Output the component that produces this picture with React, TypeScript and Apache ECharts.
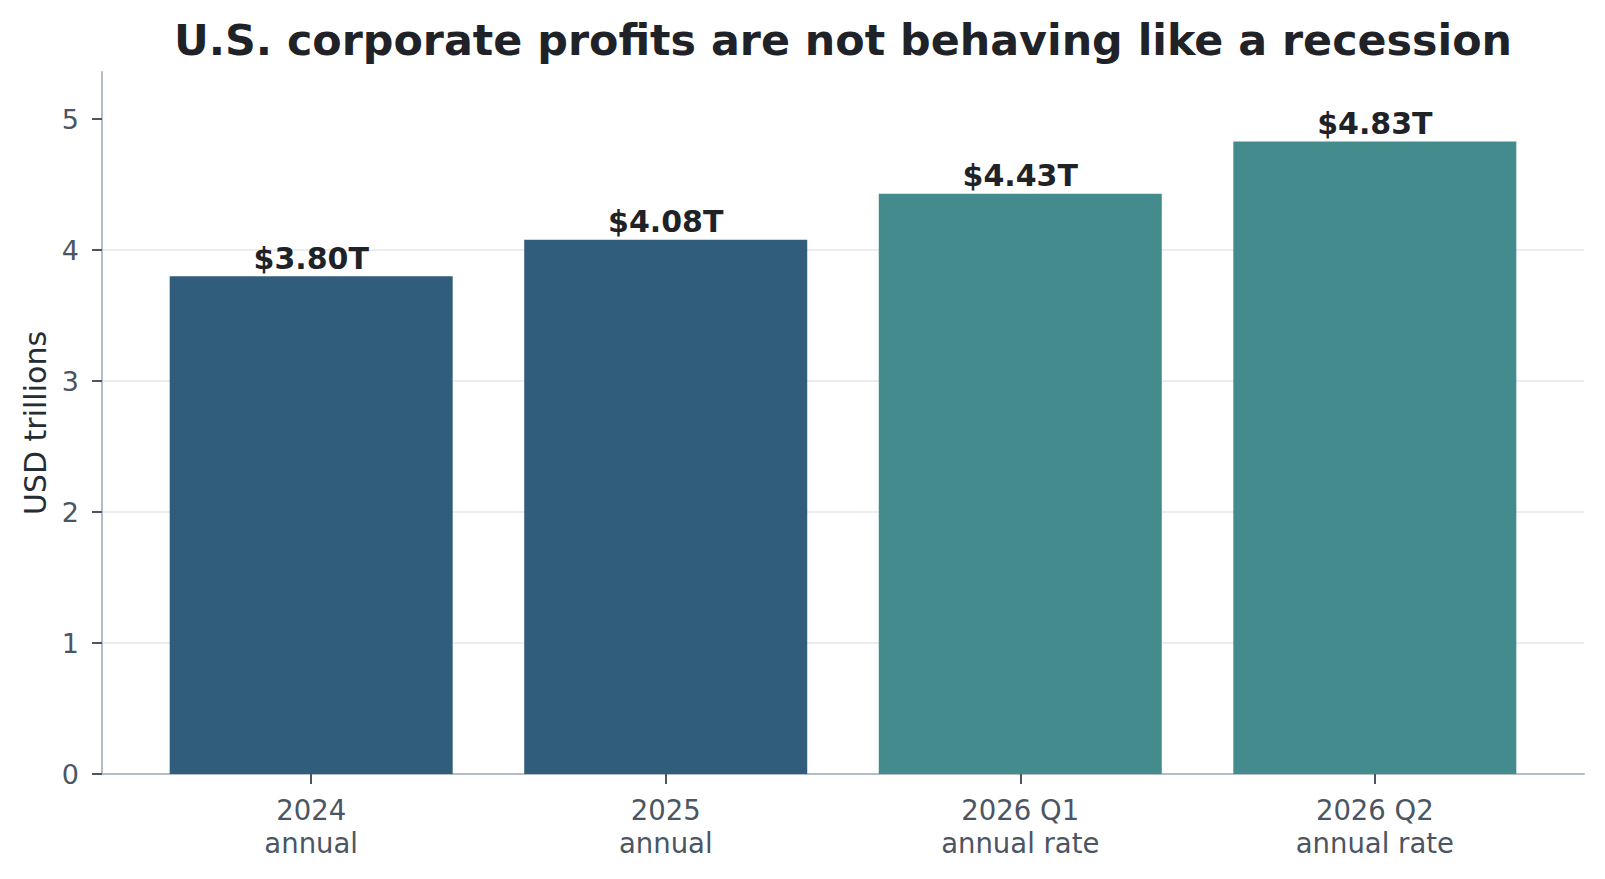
import React, { useEffect, useRef } from "react";
import * as echarts from "echarts";

const categoryMain = ["2024", "2025", "2026 Q1", "2026 Q2"];
const categorySub = ["annual", "annual", "annual rate", "annual rate"];
const profits = [3.8, 4.08, 4.43, 4.83];
const barColors = ["#305d7b", "#305d7b", "#438b8d", "#438b8d"];
const yTicks = [0, 1, 2, 3, 4, 5];

const TITLE = "U.S. corporate profits are not behaving like a recession";
const FONT = "DejaVu Sans";

export default function App() {
  const ref = useRef<HTMLDivElement>(null);
  useEffect(() => {
    if (!ref.current) return;
    const chart = echarts.init(ref.current, undefined, { renderer: "svg" });
    const xIdx = categoryMain.map((_, i) => i);
    chart.setOption({
      animation: false,
      backgroundColor: "#ffffff",
      title: {
        text: TITLE,
        left: 838,
        textAlign: "center",
        top: 13,
        textStyle: { fontFamily: FONT, fontSize: 42.8, fontWeight: "bold", color: "#1f2328" },
      },
      grid: { left: 102, right: 21, top: 72, bottom: 105 },
      xAxis: {
        type: "value",
        min: -0.59,
        max: 3.59,
        splitLine: { show: false },
        axisLine: { show: true, onZero: false, lineStyle: { color: "#b4bcc5", width: 2 } },
        axisTick: {
          show: true,
          customValues: xIdx,
          length: 10,
          lineStyle: { color: "#4b5563", width: 2 },
        },
        axisLabel: {
          customValues: xIdx,
          margin: 19,
          fontFamily: FONT,
          fontSize: 27.5,
          lineHeight: 33,
          color: "#4b5563",
          formatter: (v: number) => {
            const i = Math.round(v);
            return categoryMain[i] + "\n" + categorySub[i];
          },
        },
      },
      yAxis: {
        type: "value",
        min: 0,
        max: 5.36,
        interval: 1,
        name: "USD trillions",
        nameLocation: "middle",
        nameGap: 52,
        nameTextStyle: { fontFamily: FONT, fontSize: 30, color: "#262c33" },
        axisLine: { show: true, onZero: false, lineStyle: { color: "#b4bcc5", width: 2 } },
        axisTick: {
          show: true,
          customValues: yTicks,
          length: 10,
          lineStyle: { color: "#4b5563", width: 2 },
        },
        axisLabel: {
          customValues: yTicks,
          margin: 23,
          fontFamily: FONT,
          fontSize: 27,
          color: "#4b5563",
        },
        splitLine: {
          show: true,
          showMaxLine: false,
          lineStyle: { color: "#e5e7eb", width: 1.5 },
        },
      },
      series: [
        {
          type: "bar",
          barWidth: 283,
          data: profits.map((v, i) => ({ value: [i, v], itemStyle: { color: barColors[i] } })),
          label: {
            show: true,
            position: "top",
            distance: 3,
            fontFamily: FONT,
            fontSize: 30,
            fontWeight: "bold",
            color: "#1f2328",
            formatter: (p: any) => "$" + p.value[1].toFixed(2) + "T",
          },
        },
      ],
    });
    return () => chart.dispose();
  }, []);
  return (
    <div
      ref={ref}
      style={{ position: "fixed", left: 0, top: 0, width: 1605, height: 879 }}
    />
  );
}
